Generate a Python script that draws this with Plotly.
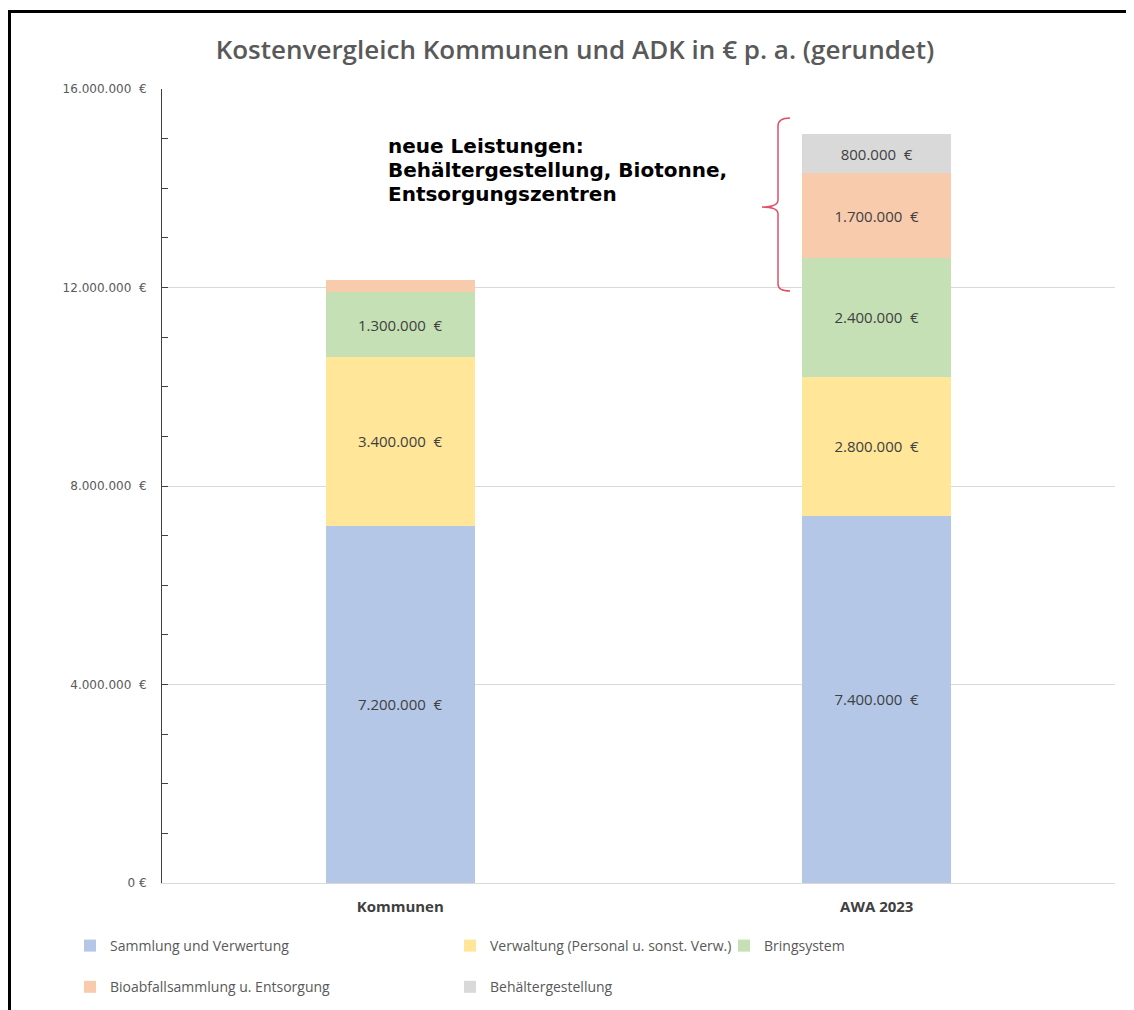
import plotly.graph_objects as go

categories = ["Kommunen", "AWA 2023"]
series_names = [
    "Sammlung und Verwertung",
    "Verwaltung (Personal u. sonst. Verw.)",
    "Bringsystem",
    "Bioabfallsammlung u. Entsorgung",
    "Behältergestellung",
]
sammlung = [7200000, 7400000]
verwaltung = [3400000, 2800000]
bringsystem = [1300000, 2400000]
bioabfall = [250000, 1700000]
behaelter = [0, 800000]
series_values = [sammlung, verwaltung, bringsystem, bioabfall, behaelter]
colors = ["#b4c7e7", "#ffe699", "#c5e0b4", "#f8cbad", "#d9d9d9"]

tick_vals = [0, 4000000, 8000000, 12000000, 16000000]
tick_text = ["0 €", "4.000.000  €", "8.000.000  €", "12.000.000  €", "16.000.000  €"]

title_text = "Kostenvergleich Kommunen und ADK in € p. a. (gerundet)"
note_lines = ["neue Leistungen:", "Behältergestellung, Biotonne,", "Entsorgungszentren"]


def fmt(v):
    if v < 500000:
        return ""
    return f"{v:,.0f}".replace(",", ".") + "  €"


OFF = 8  # page offset of the figure in the browser
W, H = 1134, 1010
# target plot area in page pixels: x 162..1115, y 89..883
ML = 162 - OFF
MT = 89 - OFF
MR = W - (1115 - OFF)
MB = H - (883 - OFF)
PW = W - ML - MR
PH = H - MT - MB


def px(x):
    return (x - OFF - ML) / PW


def py(y):
    return (H - MB - (y - OFF)) / PH


legend_of = ["legend", "legend2", "legend3", "legend", "legend2"]

fig = go.Figure()
for name, vals, col, lg in zip(series_names, series_values, colors, legend_of):
    fig.add_trace(go.Bar(
        x=categories, y=vals, name=name, marker=dict(color=col, line=dict(width=0)),
        text=[fmt(v) for v in vals], textposition="inside", insidetextanchor="middle",
        textangle=0, textfont=dict(family="Open Sans", size=15, color="#404040"),
        legend=lg, legendgroup=name, hoverinfo="skip",
    ))

# bracket
pts = [(790, 118), (778, 126), (778, 200), (762, 207), (778, 214), (778, 284), (790, 291)]
p = [(px(a), py(b)) for a, b in pts]
path = (f"M {p[0][0]},{p[0][1]} Q {p[1][0]},{p[0][1]} {p[1][0]},{p[1][1]} "
        f"L {p[2][0]},{p[2][1]} Q {p[2][0]},{p[3][1]} {p[3][0]},{p[3][1]} "
        f"Q {p[4][0]},{p[3][1]} {p[4][0]},{p[4][1]} L {p[5][0]},{p[5][1]} "
        f"Q {p[5][0]},{p[6][1]} {p[6][0]},{p[6][1]}")
fig.add_shape(type="path", path=path, xref="paper", yref="paper",
              line=dict(color="#e05068", width=1.5))

# outer border (left and top)
fig.add_shape(type="line", xref="paper", yref="paper", x0=px(9.5), x1=px(9.5), y0=py(1020), y1=py(11.5),
              line=dict(color="#000000", width=3))
fig.add_shape(type="line", xref="paper", yref="paper", x0=px(8), x1=px(1145), y0=py(11.5), y1=py(11.5),
              line=dict(color="#000000", width=3))

for line, yc in zip(note_lines, [146, 170, 194]):
    fig.add_annotation(text=line, xref="paper", yref="paper", x=px(387), y=py(yc),
                       xanchor="left", yanchor="middle", align="left", showarrow=False,
                       borderpad=0,
                       font=dict(family="DejaVu Sans", size=20, color="#000000", weight="bold"))

leg_common = dict(orientation="v", yanchor="top", xanchor="left", bgcolor="rgba(0,0,0,0)",
                  font=dict(family="Open Sans", size=14, color="#595959"),
                  tracegroupgap=20, itemwidth=30)
fig.update_layout(
    width=W, height=H,
    margin=dict(l=ML, r=MR, t=MT, b=MB, autoexpand=False),
    paper_bgcolor="white", plot_bgcolor="white",
    barmode="stack", bargap=0.687,
    title=dict(text=title_text, x=(575 - OFF) / W, xanchor="center", y=1 - (50 - OFF) / H, yanchor="middle",
               font=dict(family="Open Sans", size=26, color="#595959", weight=600)),
    showlegend=True,
    legend=dict(x=px(70), y=py(930), **leg_common),
    legend2=dict(x=px(450), y=py(930), **leg_common),
    legend3=dict(x=px(724), y=py(930), **leg_common),
    xaxis=dict(showline=True, linecolor="#d9d9d9", linewidth=1, ticks="",
               tickfont=dict(family="Open Sans", size=15, color="#404040", weight="bold"),
               ticklabelstandoff=10),
    yaxis=dict(range=[0, 16000000], tickvals=tick_vals, ticktext=tick_text,
               showgrid=True, gridcolor="#d9d9d9", gridwidth=1,
               showline=True, linecolor="#404040", linewidth=1,
               ticks="inside", ticklen=6, tickcolor="#404040",
               minor=dict(dtick=1000000, ticks="inside", ticklen=6, tickcolor="#404040", showgrid=False),
               tickfont=dict(family="DejaVu Sans", size=12, color="#595959"),
               ticklabelstandoff=12, zeroline=False),
)

fig.write_html("out.html")
